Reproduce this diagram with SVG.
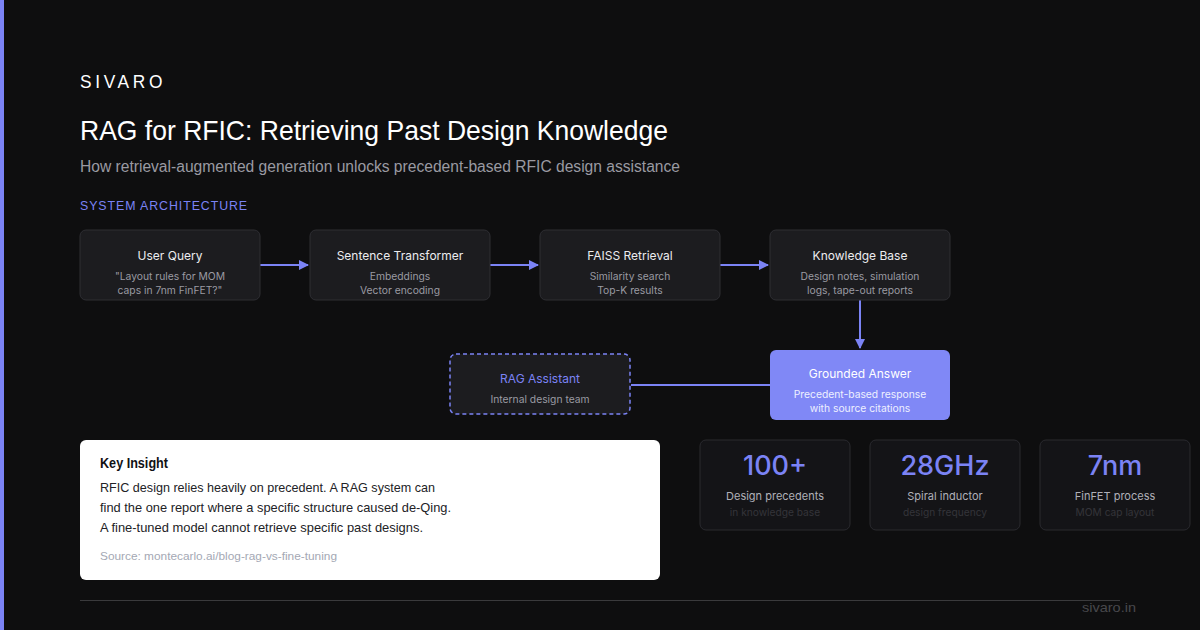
<svg xmlns="http://www.w3.org/2000/svg" width="1200" height="630" viewBox="0 0 1200 630">
<defs>
<marker id="arr" viewBox="0 0 10 10" refX="9" refY="5" markerWidth="5" markerHeight="5" orient="auto"><path d="M0,0 L10,5 L0,10 z" fill="#7b83f5"/></marker>
<style>
.hd{font-family:"Liberation Sans",Arial,sans-serif}
.in{font-family:Inter,"Noto Sans",sans-serif}
.node{fill:#1c1c1f;stroke:#2e2e33;stroke-width:1}
.nt{font-size:12px;fill:#ececef;text-anchor:middle}
.ns{font-size:10.3px;fill:#9a9aa2;text-anchor:middle}
.conn{stroke:#7b83f5;stroke-width:2;fill:none}
.stat{fill:#141417;stroke:#2a2a2f;stroke-width:1}
.sn{font-size:27px;fill:#7b83f5;text-anchor:middle;font-weight:500}
.sl{font-size:11px;fill:#b0b0b8;text-anchor:middle}
.ss{font-size:10.2px;fill:#34343a;text-anchor:middle}
</style>
</defs>
<rect width="1200" height="630" fill="#0e0e0f"/>
<rect x="0" y="0" width="4" height="630" fill="#7b83f5"/>
<text class="hd" x="80" y="88" font-size="19" fill="#ffffff" letter-spacing="4" textLength="86" lengthAdjust="spacingAndGlyphs">SIVARO</text>
<text class="hd" x="80" y="140" font-size="28" fill="#ffffff" textLength="588" lengthAdjust="spacingAndGlyphs">RAG for RFIC: Retrieving Past Design Knowledge</text>
<text class="hd" x="80" y="172" font-size="16" fill="#9a9aa2" textLength="600" lengthAdjust="spacingAndGlyphs">How retrieval-augmented generation unlocks precedent-based RFIC design assistance</text>
<text class="hd" x="80" y="210" font-size="13" fill="#7b83f5" letter-spacing="1" textLength="168" lengthAdjust="spacingAndGlyphs">SYSTEM ARCHITECTURE</text>

<g id="connectors">
<line class="conn" x1="260" y1="265" x2="308" y2="265" marker-end="url(#arr)"/>
<line class="conn" x1="490" y1="265" x2="538" y2="265" marker-end="url(#arr)"/>
<line class="conn" x1="720" y1="265" x2="768" y2="265" marker-end="url(#arr)"/>
<line class="conn" x1="860" y1="300" x2="860" y2="348" marker-end="url(#arr)"/>
<line class="conn" x1="770" y1="385" x2="631" y2="385"/>
<line x1="400" y1="265" x2="450" y2="265" stroke="#7b83f5" stroke-width="1.5" stroke-dasharray="4 3"/>
</g>

<g id="n-query">
<rect class="node" x="80" y="230" width="180" height="70" rx="6"/>
<text class="in nt" x="170" y="260">User Query</text>
<text class="in ns" x="170" y="280">"Layout rules for MOM</text>
<text class="in ns" x="170" y="294">caps in 7nm FinFET?"</text>
</g>
<g id="n-transformer">
<rect class="node" x="310" y="230" width="180" height="70" rx="6"/>
<text class="in nt" x="400" y="260">Sentence Transformer</text>
<text class="in ns" x="400" y="280">Embeddings</text>
<text class="in ns" x="400" y="294">Vector encoding</text>
</g>
<g id="n-faiss">
<rect class="node" x="540" y="230" width="180" height="70" rx="6"/>
<text class="in nt" x="630" y="260">FAISS Retrieval</text>
<text class="in ns" x="630" y="280">Similarity search</text>
<text class="in ns" x="630" y="294">Top-K results</text>
</g>
<g id="n-kb">
<rect class="node" x="770" y="230" width="180" height="70" rx="6"/>
<text class="in nt" x="860" y="260">Knowledge Base</text>
<text class="in ns" x="860" y="280">Design notes, simulation</text>
<text class="in ns" x="860" y="294">logs, tape-out reports</text>
</g>
<g id="n-answer">
<rect x="770" y="350" width="180" height="70" rx="6" fill="#8088f6"/>
<text class="in nt" x="860" y="378" style="fill:#ffffff">Grounded Answer</text>
<text class="in ns" x="860" y="398" style="fill:#eef0ff">Precedent-based response</text>
<text class="in ns" x="860" y="412" style="fill:#eef0ff">with source citations</text>
</g>
<g id="n-assistant">
<rect x="450" y="354" width="180" height="60" rx="6" fill="#1c1c1f" stroke="#7b83f5" stroke-width="1.5" stroke-dasharray="4 3"/>
<text class="in nt" x="540" y="383" style="fill:#7b83f5">RAG Assistant</text>
<text class="in ns" x="540" y="403">Internal design team</text>
</g>

<g id="insight">
<rect x="80" y="440" width="580" height="140" rx="6" fill="#ffffff"/>
<text class="hd" x="100" y="468" font-size="14" font-weight="bold" fill="#111114" textLength="68" lengthAdjust="spacingAndGlyphs">Key Insight</text>
<text class="hd" x="100" y="492" font-size="13.5" fill="#222226" textLength="335" lengthAdjust="spacingAndGlyphs">RFIC design relies heavily on precedent. A RAG system can</text>
<text class="hd" x="100" y="512" font-size="13.5" fill="#222226" textLength="351" lengthAdjust="spacingAndGlyphs">find the one report where a specific structure caused de-Qing.</text>
<text class="hd" x="100" y="532" font-size="13.5" fill="#222226" textLength="323" lengthAdjust="spacingAndGlyphs">A fine-tuned model cannot retrieve specific past designs.</text>
<text class="hd" x="100" y="560" font-size="11.5" fill="#a4a8b4" textLength="237" lengthAdjust="spacingAndGlyphs">Source: montecarlo.ai/blog-rag-vs-fine-tuning</text>
</g>

<g id="stat-1">
<rect class="stat" x="700" y="440" width="150" height="90" rx="6"/>
<text class="in sn" x="775" y="475">100+</text>
<text class="in sl" x="775" y="500">Design precedents</text>
<text class="in ss" x="775" y="516">in knowledge base</text>
</g>
<g id="stat-2">
<rect class="stat" x="870" y="440" width="150" height="90" rx="6"/>
<text class="in sn" x="945" y="475">28GHz</text>
<text class="in sl" x="945" y="500">Spiral inductor</text>
<text class="in ss" x="945" y="516">design frequency</text>
</g>
<g id="stat-3">
<rect class="stat" x="1040" y="440" width="150" height="90" rx="6"/>
<text class="in sn" x="1115" y="475">7nm</text>
<text class="in sl" x="1115" y="500">FinFET process</text>
<text class="in ss" x="1115" y="516">MOM cap layout</text>
</g>

<line x1="80" y1="600.5" x2="1120" y2="600.5" stroke="#3a3a3c" stroke-width="1"/>
<text class="hd" x="1136" y="612" font-size="13" fill="#48484c" text-anchor="end" textLength="54" lengthAdjust="spacingAndGlyphs">sivaro.in</text>
</svg>
